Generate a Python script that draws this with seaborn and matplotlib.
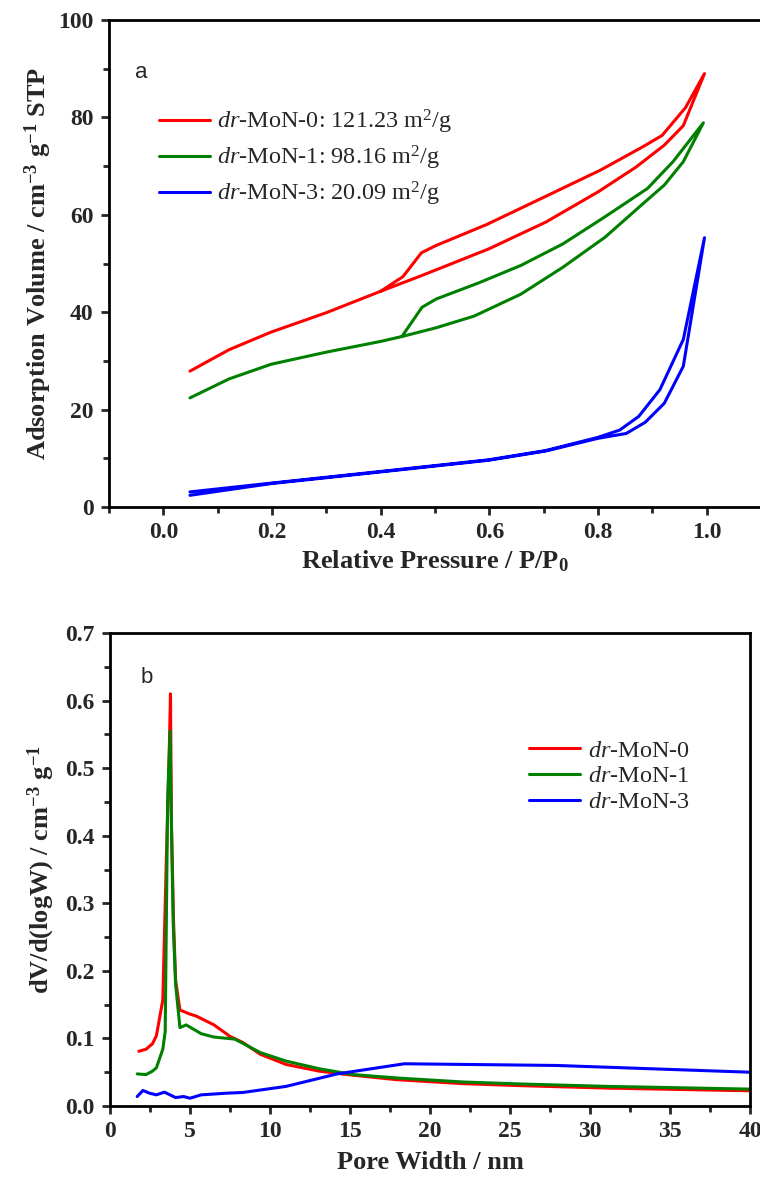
import pandas as pd
import numpy as np
import seaborn as sns
import matplotlib.pyplot as plt
from matplotlib.ticker import MultipleLocator

# (a) N2 adsorption / desorption isotherms
ads_p_0 = [0.049, 0.121, 0.198, 0.30, 0.40, 0.475, 0.599, 0.704, 0.80, 0.87, 0.922, 0.957, 0.996]
ads_v_0 = [27.9, 32.3, 35.9, 39.9, 44.3, 47.5, 53.0, 58.5, 64.7, 69.8, 74.3, 78.3, 89.0]
des_p_0 = [0.996, 0.961, 0.918, 0.883, 0.805, 0.704, 0.595, 0.502, 0.475, 0.441, 0.40]
des_v_0 = [89.0, 82.0, 76.3, 74.0, 69.2, 63.8, 58.0, 53.7, 52.2, 47.3, 44.3]

ads_p_1 = [0.049, 0.121, 0.198, 0.30, 0.40, 0.439, 0.502, 0.572, 0.658, 0.735, 0.813, 0.883, 0.922, 0.957, 0.994]
ads_v_1 = [22.4, 26.3, 29.3, 31.8, 34.0, 35.0, 36.8, 39.2, 43.7, 49.2, 55.4, 62.3, 66.1, 70.9, 78.9]
des_p_1 = [0.994, 0.938, 0.891, 0.813, 0.735, 0.658, 0.580, 0.502, 0.476, 0.439]
des_v_1 = [78.9, 70.9, 65.4, 59.6, 54.0, 49.6, 46.0, 42.7, 41.0, 35.0]

ads_p_3 = [0.049, 0.198, 0.40, 0.599, 0.704, 0.80, 0.852, 0.887, 0.922, 0.957, 0.996]
ads_v_3 = [2.4, 4.8, 7.2, 9.6, 11.5, 14.1, 15.1, 17.4, 21.3, 28.9, 55.3]
des_p_3 = [0.996, 0.957, 0.914, 0.875, 0.84, 0.80, 0.704, 0.599, 0.40, 0.198, 0.049]
des_v_3 = [55.3, 34.4, 24.1, 18.6, 15.8, 14.3, 11.6, 9.7, 7.3, 4.9, 3.1]

labels_a = [r'$\mathit{dr}$-MoN-0: 121.23 m$^2$/g',
            r'$\mathit{dr}$-MoN-1: 98.16 m$^2$/g',
            r'$\mathit{dr}$-MoN-3: 20.09 m$^2$/g']

# (b) pore size distribution
pw_0 = [1.8, 2.25, 2.65, 2.9, 3.3, 3.52, 3.7, 3.78, 3.84, 3.97, 4.1, 4.37, 5.0, 5.4, 6.5, 7.5, 8.3,
        9.4, 11.0, 13.1, 15.2, 17.9, 22.1, 25.8, 31.1, 40.0]
dv_0 = [0.081, 0.084, 0.092, 0.104, 0.157, 0.364, 0.52, 0.61, 0.42, 0.275, 0.186, 0.142, 0.136, 0.133,
        0.12, 0.103, 0.094, 0.0765, 0.0615, 0.0515, 0.0455, 0.039, 0.033, 0.030, 0.0265, 0.0225]
pw_1 = [1.7, 2.25, 2.65, 2.9, 3.3, 3.45, 3.6, 3.75, 3.85, 3.95, 4.1, 4.37, 4.76, 5.7, 6.5, 7.8, 9.4,
        11.0, 13.1, 15.2, 17.9, 22.1, 25.8, 31.1, 40.0]
dv_1 = [0.0475, 0.0465, 0.0515, 0.0565, 0.084, 0.11, 0.45, 0.555, 0.40, 0.27, 0.18, 0.116, 0.12,
        0.107, 0.102, 0.099, 0.079, 0.0665, 0.055, 0.0465, 0.0415, 0.0355, 0.0325, 0.029, 0.025]
pw_3 = [1.7, 2.06, 2.46, 2.9, 3.4, 4.1, 4.6, 5.0, 5.7, 7.3, 8.3, 11.0, 14.2, 18.4, 27.9, 40.0]
dv_3 = [0.014, 0.023, 0.019, 0.0165, 0.0205, 0.0125, 0.014, 0.0115, 0.0165, 0.019, 0.02, 0.029,
        0.0475, 0.0625, 0.06, 0.05]

labels_b = [r'$\mathit{dr}$-MoN-0', r'$\mathit{dr}$-MoN-1', r'$\mathit{dr}$-MoN-3']
colors = ['#ff0000', '#008000', '#0000ff']

sns.set_theme(style='ticks')
plt.rcParams['font.family'] = ['Liberation Serif', 'DejaVu Serif']
plt.rcParams['mathtext.fontset'] = 'custom'
plt.rcParams['mathtext.rm'] = 'Liberation Serif'
plt.rcParams['mathtext.it'] = 'Liberation Serif:italic'
plt.rcParams['mathtext.bf'] = 'Liberation Serif:bold'
plt.rcParams['axes.linewidth'] = 2.0
plt.rcParams['axes.edgecolor'] = 'black'

fig = plt.figure(figsize=(7.6, 11.82), dpi=100)
ax1 = fig.add_axes([109 / 760, 1 - 507 / 1182, 652 / 760, 487 / 1182])
ax2 = fig.add_axes([110 / 760, 1 - 1106 / 1182, 640 / 760, 473 / 1182])

# isotherms: one path per sample (adsorption up, desorption back down)
iso = []
for name, ap, av, dp, dv in [('0', ads_p_0, ads_v_0, des_p_0, des_v_0),
                             ('1', ads_p_1, ads_v_1, des_p_1, des_v_1),
                             ('3', ads_p_3, ads_v_3, des_p_3, des_v_3)]:
    d = pd.DataFrame({'P': ap + dp, 'V': av + dv})
    d['sample'] = name
    iso.append(d)
iso = pd.concat(iso, ignore_index=True)

for (name, grp), c, lab in zip(iso.groupby('sample', sort=True), colors, labels_a):
    sns.lineplot(data=grp, x='P', y='V', sort=False, estimator=None, color=c,
                 linewidth=2.2, label=lab, ax=ax1)

ax1.set_xlim(-0.1, 1.1)
ax1.set_ylim(0, 100)
ax1.xaxis.set_major_locator(MultipleLocator(0.2))
ax1.xaxis.set_minor_locator(MultipleLocator(0.1))
ax1.yaxis.set_major_locator(MultipleLocator(20))
ax1.yaxis.set_minor_locator(MultipleLocator(10))
ax1.set_xticks([0.0, 0.2, 0.4, 0.6, 0.8, 1.0])
ax1.set_xticklabels(['0.0', '0.2', '0.4', '0.6', '0.8', '1.0'])
ax1.set_xlabel(r'Relative Pressure / P/P$_{\mathbf{0}}$', fontsize=19, fontweight='bold', labelpad=4)
ax1.set_ylabel(r'Adsorption Volume / cm$^{\mathbf{-3}}$ g$^{\mathbf{-1}}$ STP', fontsize=19,
               fontweight='bold', labelpad=3)
ax1.text(0.04, 0.893, 'a', transform=ax1.transAxes, fontsize=16, family='Liberation Sans',
         va='center', ha='left')
ax1.legend(loc='upper left', bbox_to_anchor=(0.062, 0.84), frameon=False, fontsize=17.5,
           handlelength=2.1, handletextpad=0.3, labelspacing=0.32, borderaxespad=0)

# pore size distribution
psd = pd.concat([pd.DataFrame({'W': pw_0, 'dV': dv_0, 'sample': labels_b[0]}),
                 pd.DataFrame({'W': pw_1, 'dV': dv_1, 'sample': labels_b[1]}),
                 pd.DataFrame({'W': pw_3, 'dV': dv_3, 'sample': labels_b[2]})], ignore_index=True)
sns.lineplot(data=psd, x='W', y='dV', hue='sample', palette=colors, sort=False, estimator=None,
             linewidth=2.2, ax=ax2)

ax2.set_xlim(0, 40)
ax2.set_ylim(0, 0.7)
ax2.xaxis.set_major_locator(MultipleLocator(5))
ax2.xaxis.set_minor_locator(MultipleLocator(2.5))
ax2.yaxis.set_major_locator(MultipleLocator(0.1))
ax2.yaxis.set_minor_locator(MultipleLocator(0.05))
ax2.set_xlabel('Pore Width / nm', fontsize=19, fontweight='bold', labelpad=6)
ax2.set_ylabel(r'dV/d(logW) / cm$^{\mathbf{-3}}$ g$^{\mathbf{-1}}$', fontsize=19,
               fontweight='bold', labelpad=6)
ax2.text(0.047, 0.905, 'b', transform=ax2.transAxes, fontsize=16, family='Liberation Sans',
         va='center', ha='left')
ax2.legend(loc='upper left', bbox_to_anchor=(0.64, 0.795), frameon=False, fontsize=17.5,
           handlelength=2.1, handletextpad=0.3, labelspacing=0.15, borderaxespad=0, title=None)

for ax in (ax1, ax2):
    ax.tick_params(which='both', direction='out', width=2, top=False, right=False,
                   bottom=True, left=True, pad=5)
    ax.tick_params(which='major', length=6, labelsize=17)
    ax.tick_params(which='minor', length=4)
    for t in ax.get_xticklabels() + ax.get_yticklabels():
        t.set_fontweight('bold')
    for s in ax.spines.values():
        s.set_visible(True)
        s.set_linewidth(2)

fig.savefig('out.png', dpi=100)
